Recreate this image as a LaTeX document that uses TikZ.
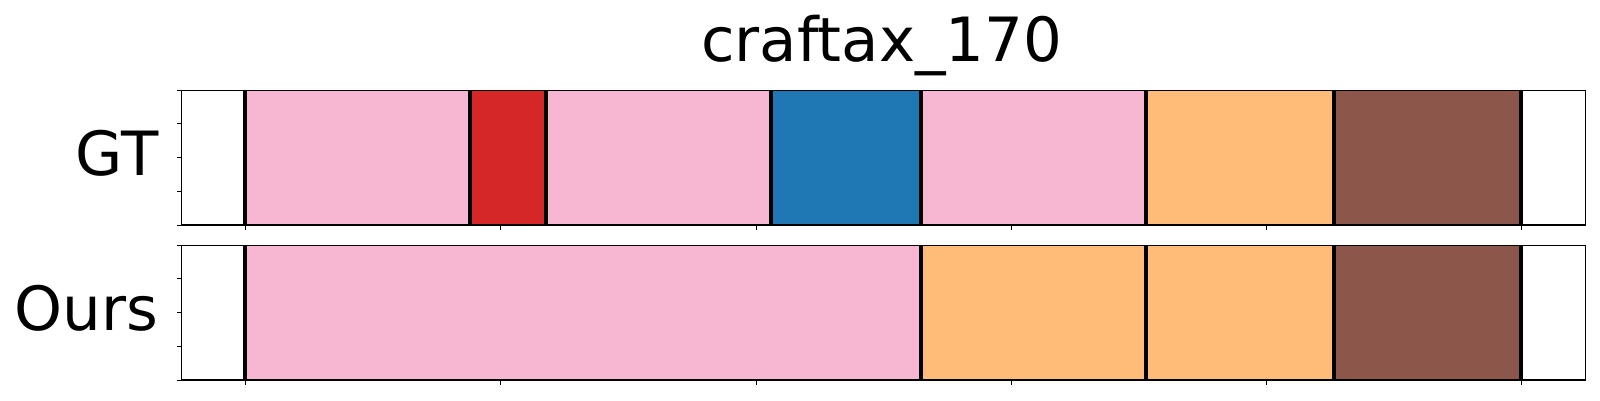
\documentclass[tikz,border=0pt]{standalone}
\usepackage{fontspec}
\setmainfont{DejaVu Sans}
\definecolor{tpink}{HTML}{F7B6D2}
\definecolor{tred}{HTML}{D62728}
\definecolor{tblue}{HTML}{1F77B4}
\definecolor{torange}{HTML}{FFBB78}
\definecolor{tbrown}{HTML}{8C564B}
\begin{document}
\begin{tikzpicture}[x=1pt,y=-1pt,
  big/.style={font=\fontsize{61}{66}\selectfont, inner sep=0pt, outer sep=0pt},
  segfill/.style={line width=0.6pt},
  bound/.style={line width=4pt, black},
  frame/.style={line width=1.2pt, black},
  tickmark/.style={line width=1pt, black}]
\useasboundingbox (0,0) rectangle (1600,400);
\fill[white] (0,0) rectangle (1600,400);
% GT segments (top 90.3, bottom 225)
\def\gt{90.3}\def\gb{225}
\def\ot{245.3}\def\ob{380}
\filldraw[segfill, fill=tpink, draw=tpink!85!black!90] (245,\gt) rectangle (470,\gb);
\filldraw[segfill, fill=tred, draw=tred!90!black] (470,\gt) rectangle (546,\gb);
\filldraw[segfill, fill=tpink, draw=tpink!85!black!90] (546,\gt) rectangle (771,\gb);
\filldraw[segfill, fill=tblue, draw=tblue!90!black] (771,\gt) rectangle (921,\gb);
\filldraw[segfill, fill=tpink, draw=tpink!85!black!90] (921,\gt) rectangle (1146,\gb);
\filldraw[segfill, fill=torange, draw=torange!85!black] (1146,\gt) rectangle (1334,\gb);
\filldraw[segfill, fill=tbrown, draw=tbrown!90!black] (1334,\gt) rectangle (1521,\gb);
% Ours segments
\filldraw[segfill, fill=tpink, draw=tpink!85!black!90] (245,\ot) rectangle (921,\ob);
\filldraw[segfill, fill=torange, draw=torange!85!black] (921,\ot) rectangle (1146,\ob);
\filldraw[segfill, fill=torange, draw=torange!85!black] (1146,\ot) rectangle (1334,\ob);
\filldraw[segfill, fill=tbrown, draw=tbrown!90!black] (1334,\ot) rectangle (1521,\ob);
% boundary lines
\foreach \x in {245,470,546,771,921,1146,1334,1521}
  \draw[bound] (\x,\gt) -- (\x,\gb);
\foreach \x in {245,921,1146,1334,1521}
  \draw[bound] (\x,\ot) -- (\x,\ob);
% frames
\draw[frame] (181.3,\gt) rectangle (1585.3,\gb);
\draw[frame] (181.3,\ot) rectangle (1585.3,\ob);
% ticks
\foreach \k in {0,...,5} {
  \draw[tickmark] (245.7+255.2*\k,\gb) -- ++(0,4.5);
  \draw[tickmark] (245.7+255.2*\k,\ob) -- ++(0,4.5);
}
\foreach \k in {0,...,4} {
  \draw[tickmark] (181.3,\gt+33.675*\k) -- ++(-4.5,0);
  \draw[tickmark] (181.3,\ot+33.675*\k) -- ++(-4.5,0);
}
% labels
\node[big, anchor=base] (title) at (881.7,61.7) {craftax\_170};
\node[big, anchor=base east] (gt) at (158.3,175) {GT};
\node[big, anchor=base east] (ours) at (158.3,330.5) {Ours};
\end{tikzpicture}
\end{document}
